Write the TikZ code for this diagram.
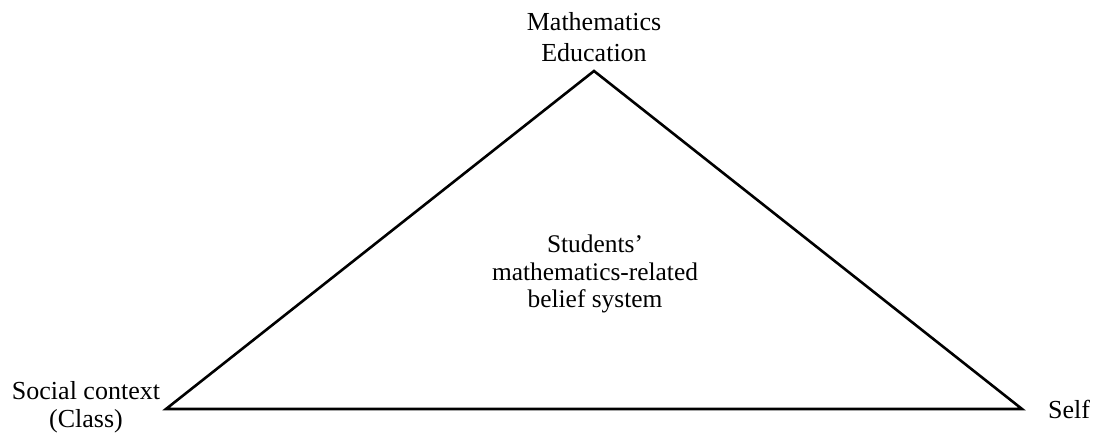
\documentclass[tikz,border=0pt]{standalone}
\usepackage{fontspec}
\setmainfont{Liberation Serif}
\usepackage{tikz}

\begin{document}
\begin{tikzpicture}[x=0.5pt,y=-0.5pt]
    % --- frame ---
    \useasboundingbox (0,0) rectangle (1102,437);
    \tikzset{vlabel/.style={align=center, inner sep=0pt, font=\fontsize{13}{14}\selectfont}}
    % --- triangle ---
	\coordinate (apex) at (594,71);
	\coordinate (lcorner) at (166,409);
	\coordinate (rcorner) at (1022,409);
	\draw[line width=1.3pt, line join=miter] (apex) -- (rcorner) -- (lcorner) -- cycle;
    % --- labels ---
	\node[vlabel, font=\fontsize{13}{15.5}\selectfont] (educ) at (594,37) {Mathematics\\Education};
	\node[vlabel] (social) at (86,407) {Social context\\(Class)};
	\node[vlabel] (self) at (1069,409) {Self};
	\node[vlabel, font=\fontsize{12.7}{13.8}\selectfont] (belief) at (595,274) {Students'\\mathematics-related\\belief system};
\end{tikzpicture}
\end{document}
